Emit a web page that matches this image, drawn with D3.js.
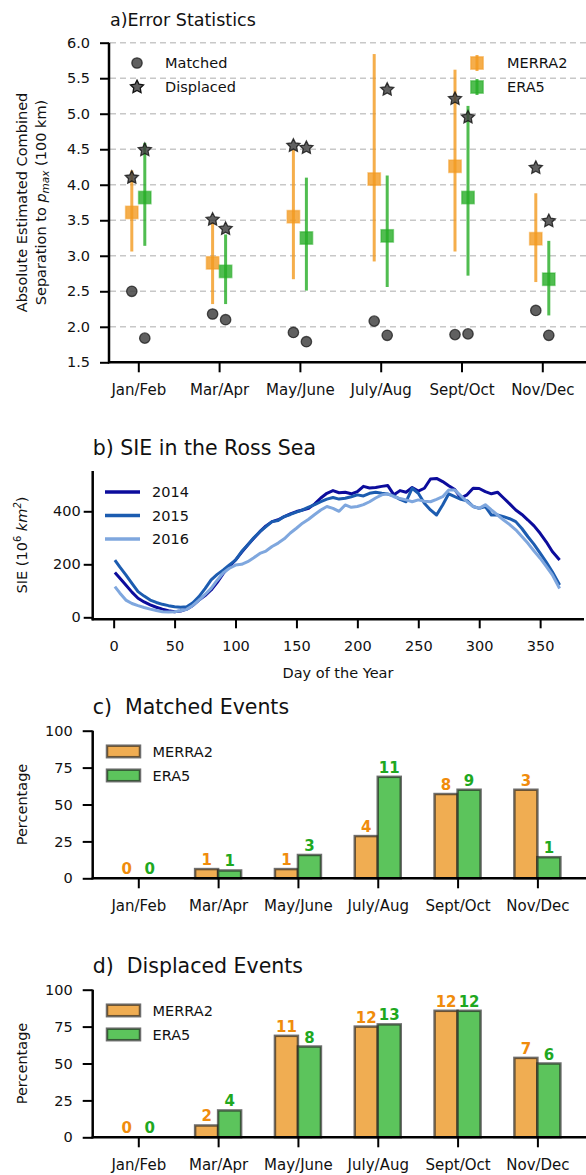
<!DOCTYPE html>
<html>
<head>
<meta charset="utf-8">
<script src="https://cdn.jsdelivr.net/npm/d3@7"></script>
<style>
  body { margin: 0; background: #fff; }
  text { font-family: "DejaVu Sans", sans-serif; fill: #111; white-space: pre; }
</style>
</head>
<body>
<svg id="fig" width="586" height="1175"></svg>
<script>
// ---------- data ----------
var months = ["Jan/Feb", "Mar/Apr", "May/June", "July/Aug", "Sept/Oct", "Nov/Dec"];

// panel a: error statistics (100 km)
var merraMean = [3.61, 2.90, 3.55, 4.08, 4.26, 3.24];
var merraLow  = [3.06, 2.32, 2.67, 2.92, 3.06, 2.63];
var merraHigh = [4.20, 3.47, 4.49, 5.84, 5.62, 3.88];
var eraMean = [3.82, 2.78, 3.25, 3.28, 3.82, 2.67];
var eraLow  = [3.14, 2.32, 2.51, 2.56, 2.72, 2.16];
var eraHigh = [4.59, 3.30, 4.10, 4.13, 5.11, 3.21];
var merraDisplaced = [4.10, 3.51, 4.55, 6.12, 5.21, 4.24];
var eraDisplaced   = [4.49, 3.38, 4.52, 5.34, 4.95, 3.49];
var merraMatched = [2.50, 2.18, 1.92, 2.08, 1.89, 2.23];
var eraMatched   = [1.84, 2.10, 1.79, 1.88, 1.90, 1.88];

// panel b: SIE in the Ross Sea
var days = [1,5,10,15,20,25,30,35,40,45,50,55,60,65,70,75,80,85,90,95,100,105,110,115,120,125,130,135,140,145,150,155,160,165,170,175,180,185,190,195,200,205,210,215,220,225,230,235,240,245,250,255,260,265,270,275,280,285,290,295,300,305,310,315,320,325,330,335,340,345,350,355,360,366];
var sie2014 = [169,148,122,95,72,58,47,38,31,25,21,24,31,45,65,82,103,132,166,192,216,245,273,298,323,345,361,368,380,390,399,405,411,428,450,468,478,470,472,466,474,494,488,490,494,497,462,478,472,490,476,487,522,524,512,496,482,450,462,487,486,474,466,472,450,428,405,388,367,345,317,285,248,216];
var sie2015 = [216,190,160,128,97,80,65,56,49,44,40,38,40,55,78,108,141,162,179,198,216,248,273,300,323,342,361,365,380,388,397,405,416,425,436,446,452,446,449,455,462,458,468,472,468,465,458,445,436,487,468,430,405,386,424,466,455,445,440,418,411,418,386,386,380,372,361,335,304,275,242,208,172,122];
var sie2016 = [116,92,65,52,44,37,31,26,21,20,21,25,30,45,65,86,109,140,168,185,197,200,210,225,241,250,267,280,296,318,336,355,370,388,405,418,411,400,424,415,418,425,436,450,462,466,455,448,443,436,443,438,436,445,455,480,480,458,436,418,411,425,405,386,367,350,330,305,279,250,223,192,160,109];
var years = ["2014", "2015", "2016"];

// panel c/d: percentages and event counts
var matchedMerra = [0, 6.25, 6.25, 28.6, 57.1, 60];
var matchedEra   = [0, 5.3, 15.8, 68.75, 60, 14.3];
var matchedMerraN = [0, 1, 1, 4, 8, 3];
var matchedEraN   = [0, 1, 3, 11, 9, 1];
var displacedMerra = [0, 8, 68.75, 75, 85.7, 53.8];
var displacedEra   = [0, 18.2, 61.5, 76.5, 85.7, 50];
var displacedMerraN = [0, 2, 11, 12, 12, 7];
var displacedEraN   = [0, 4, 8, 13, 12, 6];

// ---------- styles ----------
var orange = "#f39a1f", green = "#25ad25";
var orangeBar = "#f0ad52", greenBar = "#5cc45c";
var orangeText = "#f08c0c", greenText = "#1fa81f";
var lineColors = ["#0c0c9c", "#1c5cb0", "#7fa7de"];
var monthFont = "Lato, 'Gill Sans', sans-serif";

var svg = d3.select("#fig");

function styleTicks(g, size, family) {
  g.select(".domain").remove();
  g.selectAll(".tick line").attr("stroke", "#000").attr("stroke-width", 2);
  g.selectAll(".tick text").attr("font-size", size).attr("font-family", family || null).style("fill", "#111");
}

function spines(left, right, top, bottom) {
  svg.append("line").attr("x1", left).attr("x2", left).attr("y1", top).attr("y2", bottom + 1)
    .attr("stroke", "#000").attr("stroke-width", 2.5);
  svg.append("line").attr("x1", left - 1).attr("x2", right).attr("y1", bottom).attr("y2", bottom)
    .attr("stroke", "#000").attr("stroke-width", 2.5);
}

// fatter five-point star, like matplotlib's "*" marker
var fatStar = {
  draw: function(context, size) {
    var R = Math.sqrt(size) * 0.95, r = R * 0.5;
    for (var i = 0; i < 10; i++) {
      var a = -Math.PI / 2 + i * Math.PI / 5, rad = i % 2 ? r : R;
      if (i === 0) context.moveTo(rad * Math.cos(a), rad * Math.sin(a));
      else context.lineTo(rad * Math.cos(a), rad * Math.sin(a));
    }
    context.closePath();
  }
};

// ================= panel a =================
var ax = d3.scalePoint().domain(months).range([138.3, 542.3]);
var ay = d3.scaleLinear().domain([1.5, 6]).range([362.3, 42.7]);
var aOff = 6.5;

svg.append("text").attr("x", 110).attr("y", 26).attr("font-size", 17.5).text("a)Error Statistics");

svg.append("g").selectAll("line").data(d3.range(2, 6.01, 0.5)).join("line")
  .attr("x1", 110).attr("x2", 586).attr("y1", function(d) { return ay(d); }).attr("y2", function(d) { return ay(d); })
  .attr("stroke", "#c8c8c8").attr("stroke-width", 1.5).attr("stroke-dasharray", "6,4");

var gay = svg.append("g").attr("transform", "translate(109,0)")
  .call(d3.axisLeft(ay).tickValues(d3.range(1.5, 6.01, 0.5)).tickSize(9).tickPadding(10).tickFormat(d3.format(".1f")));
styleTicks(gay, 14.5);
var gax = svg.append("g").attr("transform", "translate(0,362.3)")
  .call(d3.axisBottom(ax).tickSize(10).tickPadding(12));
styleTicks(gax, 15, monthFont);
spines(109, 586, 42.7, 362.3);

var ylab = svg.append("text").attr("transform", "translate(27,202.5) rotate(-90)")
  .attr("text-anchor", "middle").attr("font-size", 14.5);
ylab.append("tspan").attr("x", 0).attr("dy", 0).text("Absolute Estimated Combined");
ylab.append("tspan").attr("x", 0).attr("dy", 19).text("Separation to ");
ylab.append("tspan").attr("font-style", "italic").text("p");
ylab.append("tspan").attr("font-style", "italic").attr("font-size", 10.5).attr("dy", 3).text("max");
ylab.append("tspan").attr("dy", -3).text(" (100 km)");

svg.append("clipPath").attr("id", "clipA").append("rect")
  .attr("x", 109).attr("y", 42).attr("width", 480).attr("height", 322);
var pa = svg.append("g").attr("clip-path", "url(#clipA)");

function errorSeries(mean, low, high, off, col) {
  pa.append("g").selectAll("line").data(months).join("line")
    .attr("x1", function(d) { return ax(d) + off; }).attr("x2", function(d) { return ax(d) + off; })
    .attr("y1", function(d, i) { return ay(low[i]); }).attr("y2", function(d, i) { return ay(high[i]); })
    .attr("stroke", col).attr("stroke-width", 3).attr("opacity", 0.8);
  pa.append("g").selectAll("rect").data(months).join("rect")
    .attr("x", function(d) { return ax(d) + off - 6.2; }).attr("y", function(d, i) { return ay(mean[i]) - 6.2; })
    .attr("width", 12.4).attr("height", 12.4)
    .attr("fill", col).attr("fill-opacity", 0.8).attr("stroke", col).attr("stroke-opacity", 0.5).attr("stroke-width", 1.5);
}
errorSeries(merraMean, merraLow, merraHigh, -aOff, orange);
errorSeries(eraMean, eraLow, eraHigh, aOff, green);

var star = d3.symbol().type(fatStar).size(52);
function starSeries(vals, off) {
  pa.append("g").selectAll("path").data(months).join("path")
    .attr("transform", function(d, i) { return "translate(" + (ax(d) + off) + "," + ay(vals[i]) + ")"; })
    .attr("d", star).attr("fill", "#3a3a3a").attr("fill-opacity", 0.8)
    .attr("stroke", "#111").attr("stroke-width", 1.3).attr("stroke-opacity", 0.8);
}
function circleSeries(vals, off) {
  pa.append("g").selectAll("circle").data(months).join("circle")
    .attr("cx", function(d) { return ax(d) + off; }).attr("cy", function(d, i) { return ay(vals[i]); })
    .attr("r", 5.2).attr("fill", "#444").attr("fill-opacity", 0.85)
    .attr("stroke", "#111").attr("stroke-width", 1.3).attr("stroke-opacity", 0.7);
}
starSeries(merraDisplaced, -aOff);
starSeries(eraDisplaced, aOff);
circleSeries(merraMatched, -aOff);
circleSeries(eraMatched, aOff);

// panel a legends
svg.append("circle").attr("cx", 137).attr("cy", 63).attr("r", 5.2).attr("fill", "#444").attr("fill-opacity", 0.85)
  .attr("stroke", "#111").attr("stroke-width", 1.3).attr("stroke-opacity", 0.7);
svg.append("path").attr("transform", "translate(137,87)").attr("d", star).attr("fill", "#3a3a3a").attr("fill-opacity", 0.8)
  .attr("stroke", "#111").attr("stroke-width", 1.3);
svg.append("text").attr("x", 165).attr("y", 68).attr("font-size", 14.5).text("Matched");
svg.append("text").attr("x", 165).attr("y", 92).attr("font-size", 14.5).text("Displaced");
[["MERRA2", orange, 63], ["ERA5", green, 87]].forEach(function(e) {
  svg.append("line").attr("x1", 477).attr("x2", 477).attr("y1", e[2] - 8).attr("y2", e[2] + 8)
    .attr("stroke", e[1]).attr("stroke-width", 3).attr("opacity", 0.8);
  svg.append("rect").attr("x", 477 - 6.2).attr("y", e[2] - 6.2).attr("width", 12.4).attr("height", 12.4)
    .attr("fill", e[1]).attr("fill-opacity", 0.8).attr("stroke", e[1]).attr("stroke-opacity", 0.5).attr("stroke-width", 1.5);
  svg.append("text").attr("x", 507).attr("y", e[2] + 5).attr("font-size", 14.5).text(e[0]);
});

// ================= panel b =================
var bx = d3.scaleLinear().domain([-17.2, 386]).range([92.7, 584]);
var by = d3.scaleLinear().domain([-7.5, 552]).range([619.3, 471]);

svg.append("text").attr("x", 92.7).attr("y", 455).attr("font-size", 20.5).text("b) SIE in the Ross Sea");

var gby = svg.append("g").attr("transform", "translate(92.7,0)")
  .call(d3.axisLeft(by).tickValues([0, 200, 400]).tickSize(9).tickPadding(3));
styleTicks(gby, 14.5);
var gbx = svg.append("g").attr("transform", "translate(0,619.3)")
  .call(d3.axisBottom(bx).tickValues(d3.range(0, 351, 50)).tickSize(9).tickPadding(12));
styleTicks(gbx, 14.5);
spines(92.7, 584, 471, 619.3);

svg.append("text").attr("x", 338).attr("y", 678).attr("text-anchor", "middle").attr("font-size", 14.5).text("Day of the Year");
var sl = svg.append("text").attr("transform", "translate(27,545) rotate(-90)").attr("text-anchor", "middle").attr("font-size", 14.5);
sl.append("tspan").text("SIE (10");
sl.append("tspan").attr("font-size", 10).attr("dy", -6).text("6");
sl.append("tspan").attr("dy", 6).text(" ");
sl.append("tspan").attr("font-style", "italic").text("km");
sl.append("tspan").attr("font-size", 10).attr("dy", -6).attr("font-style", "italic").text("2");
sl.append("tspan").attr("dy", 6).text(")");

var line = d3.line().x(function(d) { return bx(d[0]); }).y(function(d) { return by(d[1]); });
[sie2014, sie2015, sie2016].forEach(function(s, k) {
  svg.append("path").datum(days.map(function(d, i) { return [d, s[i]]; }))
    .attr("d", line).attr("fill", "none").attr("stroke", lineColors[k]).attr("stroke-width", 3)
    .attr("stroke-linejoin", "round");
});
years.forEach(function(y, k) {
  var yy = 492 + k * 23.5;
  svg.append("line").attr("x1", 105).attr("x2", 140).attr("y1", yy).attr("y2", yy)
    .attr("stroke", lineColors[k]).attr("stroke-width", 3.5);
  svg.append("text").attr("x", 152).attr("y", yy + 5).attr("font-size", 14.5).text(y);
});

// ================= panels c & d =================
var cx = d3.scalePoint().domain(months).range([138.3, 537.4]);
var barW = 23;

function barPanel(title, titleY, top, bottom, mVals, eVals, mN, eN) {
  var y = d3.scaleLinear().domain([0, 100]).range([bottom, top]);
  svg.append("text").attr("x", 92.7).attr("y", titleY).attr("font-size", 20.5).text(title);

  var gy = svg.append("g").attr("transform", "translate(92.7,0)")
    .call(d3.axisLeft(y).tickValues([0, 25, 50, 75, 100]).tickSize(10).tickPadding(10));
  styleTicks(gy, 14.5);
  var gx = svg.append("g").attr("transform", "translate(0," + bottom + ")")
    .call(d3.axisBottom(cx).tickSize(10).tickPadding(12));
  styleTicks(gx, 15, monthFont);

  svg.append("text").attr("transform", "translate(27," + ((top + bottom) / 2) + ") rotate(-90)")
    .attr("text-anchor", "middle").attr("font-size", 14.5).text("Percentage");

  [[mVals, mN, -barW, orangeBar, orangeText], [eVals, eN, 0, greenBar, greenText]].forEach(function(s) {
    svg.append("g").selectAll("rect").data(months).join("rect")
      .attr("x", function(d) { return cx(d) + s[2]; }).attr("width", barW)
      .attr("y", function(d, i) { return y(s[0][i]); })
      .attr("height", function(d, i) { return bottom - y(s[0][i]); })
      .attr("fill", s[3]).attr("stroke", "#222").attr("stroke-opacity", 0.65).attr("stroke-width", 2.5);
    svg.append("g").selectAll("text").data(months).join("text")
      .attr("x", function(d) { return cx(d) + s[2] + barW / 2; })
      .attr("y", function(d, i) { return y(s[0][i]) - 4; })
      .attr("text-anchor", "middle").attr("font-size", 15).attr("font-weight", "bold")
      .style("fill", s[4]).text(function(d, i) { return s[1][i]; });
  });
  spines(92.7, 586, top, bottom);

  var ly = top + 15;
  [["MERRA2", orangeBar], ["ERA5", greenBar]].forEach(function(e, k) {
    var yy = ly + k * 24;
    svg.append("rect").attr("x", 107).attr("y", yy).attr("width", 33).attr("height", 11.5)
      .attr("fill", e[1]).attr("stroke", "#222").attr("stroke-opacity", 0.65).attr("stroke-width", 2.5);
    svg.append("text").attr("x", 152.5).attr("y", yy + 11).attr("font-size", 14.5).text(e[0]);
  });
}

barPanel("c)  Matched Events", 714, 730.7, 878.3, matchedMerra, matchedEra, matchedMerraN, matchedEraN);
barPanel("d)  Displaced Events", 973.3, 989.7, 1137.3, displacedMerra, displacedEra, displacedMerraN, displacedEraN);
</script>
</body>
</html>
